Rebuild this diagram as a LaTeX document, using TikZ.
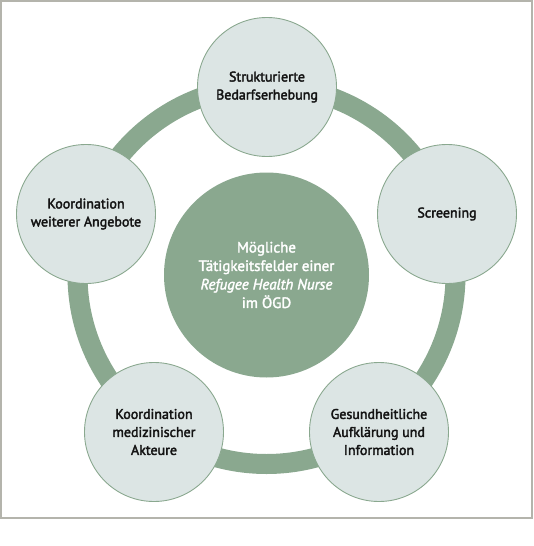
\documentclass[tikz,border=0pt]{standalone}
\usepackage{fontspec}
\setmainfont{PT Sans}
\newfontfamily\medfont{PT Sans}[FakeBold=2.6,ItalicFont={PT Sans Italic},ItalicFeatures={FakeBold=2.6}]
\newfontfamily\hubfont{PT Sans}[FakeBold=2.2,ItalicFont={PT Sans Italic},ItalicFeatures={FakeBold=2.2}]
\definecolor{sage}{HTML}{8AA88F}
\definecolor{pale}{HTML}{DCE5E4}
\definecolor{framegray}{HTML}{B4B4AC}
\definecolor{ink}{HTML}{141414}
\begin{document}
\begin{tikzpicture}[x=1pt,y=-1pt,
  outer/.style={circle, draw=sage, line width=0.9pt, fill=pale, minimum size=139pt,
    inner sep=0pt, align=center, text=ink, font=\medfont\fontsize{14}{18}\selectfont},
  hub/.style={circle, fill=sage, minimum size=205pt, inner sep=0pt, align=center,
    text=white, font=\hubfont\fontsize{15}{18.5}\selectfont},
  ring/.style={draw=sage, line width=20pt},
  frame/.style={draw=framegray, line width=1.5pt}]
\useasboundingbox (0,0) rectangle (534,546);
\draw[frame] (1,1) rectangle (532,518);
\coordinate (c) at (266.5,275);
\draw[ring] (c) circle[radius=189pt];
\node[hub] (hub) at (c) {Mögliche\\Tätigkeitsfelder einer\\\textit{Refugee Health Nurse}\\im ÖGD};
\node[outer] (top) at (267,87) {Strukturierte\\Bedarfserhebung};
\node[outer] (right) at (447,214) {Screening};
\node[outer] (bright) at (379,432) {Gesundheitliche\\Aufklärung und\\Information};
\node[outer] (bleft) at (154,432) {Koordination\\medizinischer\\Akteure};
\node[outer] (left) at (86,214) {Koordination\\weiterer Angebote};
\end{tikzpicture}
\end{document}
